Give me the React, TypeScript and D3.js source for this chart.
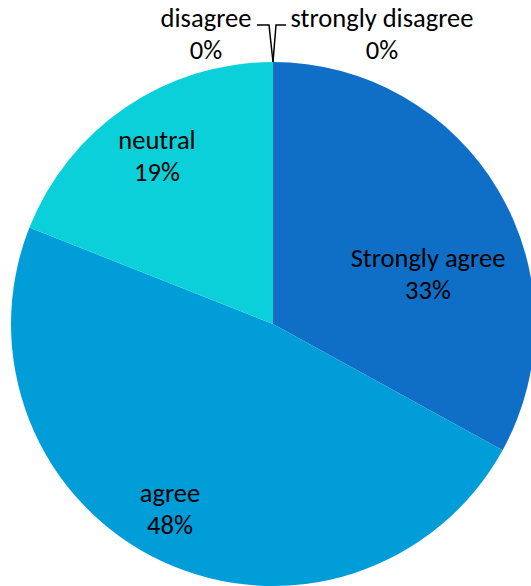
import React from "react";
import * as d3 from "d3";

// Survey responses (percent of respondents)
const categories = ["Strongly agree", "agree", "neutral", "disagree", "strongly disagree"];
const shares = [33, 48, 19, 0, 0];
const colors = ["#0F6FC6", "#009DD9", "#0BD0D9", "#10CF9B", "#7CCA62"];

// Label anchor offsets from the pie centre (centre of the two-line label block)
const labelOffsets: [number, number][] = [
  [155, -41],
  [-103, 194],
  [-116, -159],
  [-67, -281],
  [109, -281],
];
// Leader-line elbow for labels placed outside the pie (null = inside label)
const leaderElbows: ([number, number, number] | null)[] = [
  null,
  null,
  null,
  [-4, -299, -16], // elbow x, elbow y, end x (relative to centre)
  [3, -299, 13],
];

const W = 531;
const H = 586;
const cx = 273;
const cy = 324;
const R = 262;
const LINE_GAP = 16;

export default function App() {
  const pie = d3
    .pie<number>()
    .sort(null)
    .value((d) => d)
    .startAngle(0)
    .endAngle(2 * Math.PI);
  const arcs = pie(shares);
  const arcGen = d3.arc<d3.PieArcDatum<number>>().innerRadius(0).outerRadius(R);
  const fmt = d3.format(".0%");
  const total = d3.sum(shares);

  return (
    <svg
      width={W}
      height={H}
      style={{ position: "absolute", left: 0, top: 0, background: "#fff" }}
      fontFamily="Carlito, Calibri, 'Liberation Sans', Arial, sans-serif"
      fontSize={26.5}
    >
      <g transform={`translate(${cx},${cy})`}>
        {arcs.map((a, i) =>
          a.value > 0 ? <path key={i} d={arcGen(a) || ""} fill={colors[i]} /> : null
        )}
        {arcs.map((a, i) => {
          const e = leaderElbows[i];
          if (!e) return null;
          // point on the rim where the zero-width slice sits
          const px = Math.sin(a.startAngle) * R;
          const py = -Math.cos(a.startAngle) * R;
          return (
            <polyline
              key={"l" + i}
              points={`${px},${py} ${e[0]},${e[1]} ${e[2]},${e[1]}`}
              fill="none"
              stroke="#000"
              strokeWidth={1.5}
            />
          );
        })}
        {arcs.map((a, i) => {
          const [lx, ly] = labelOffsets[i];
          return (
            <text key={"t" + i} x={lx} textAnchor="middle" fill="#000">
              <tspan x={lx} y={ly - LINE_GAP}>
                {categories[i]}
              </tspan>
              <tspan x={lx} y={ly + LINE_GAP}>
                {fmt(shares[i] / total)}
              </tspan>
            </text>
          );
        })}
      </g>
    </svg>
  );
}
